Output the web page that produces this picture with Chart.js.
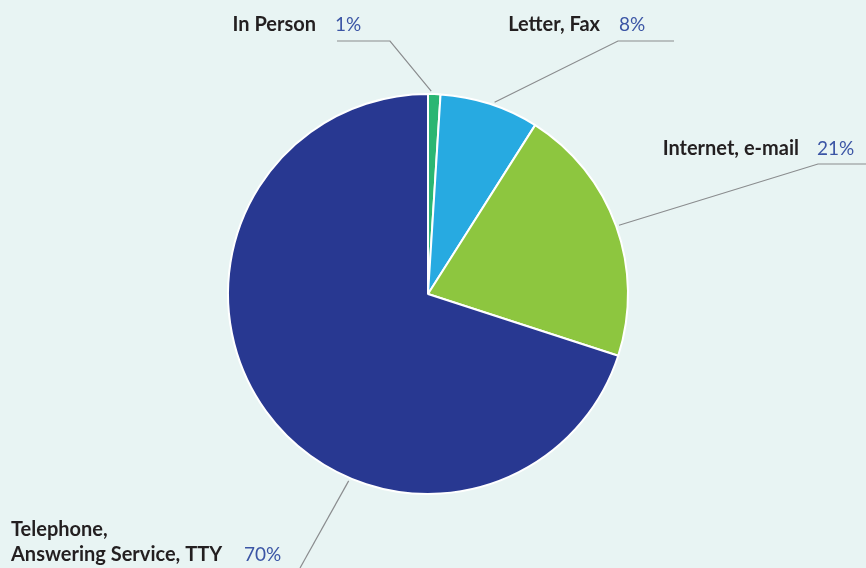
<!DOCTYPE html>
<html>
<head>
<meta charset="utf-8">
<script src="https://cdn.jsdelivr.net/npm/chart.js@4/dist/chart.umd.min.js"></script>
<style>
  html, body { margin: 0; padding: 0; background: #e8f4f3; }
  #wrap { width: 866px; height: 568px; position: relative; }
</style>
</head>
<body>
<div id="wrap"><canvas id="pie" width="866" height="568"></canvas></div>
<script>
// data
const categories = ['In Person', 'Letter, Fax', 'Internet, e-mail', 'Telephone,\nAnswering Service, TTY'];
const shares = [1, 8, 21, 70];
const sliceColors = ['#2bb673', '#27aae1', '#8dc63f', '#283891'];

// label placement (layout only)
const labelLayout = [
    { at: 0.25, elbow: [390, 41], tail: 337, nameRight: 316, pctLeft: 335, y: 25 },
    { at: 0.54, elbow: [618, 41], tail: 674, nameRight: 600, pctLeft: 619, y: 25 },
    { at: 0.5,  elbow: [818, 164], tail: 866, nameRight: 799, pctLeft: 817, y: 149 },
    { at: 0.377, elbow: [300, 568], tail: null, nameLeft: 11, pctLeft: 244, y: 555 }
];

const labelPlugin = {
    id: 'leaderLabels',
    afterDraw(chart) {
        const ctx = chart.ctx;
        const arcs = chart.getDatasetMeta(0).data;
        ctx.save();
        arcs.forEach((arc, i) => {
            const lay = labelLayout[i];
            const a = arc.startAngle + (arc.endAngle - arc.startAngle) * lay.at;
            const r = arc.outerRadius + 3;
            const sx = arc.x + Math.cos(a) * r;
            const sy = arc.y + Math.sin(a) * r;

            ctx.strokeStyle = '#8a8c8e';
            ctx.lineWidth = 1.2;
            ctx.beginPath();
            ctx.moveTo(sx, sy);
            ctx.lineTo(lay.elbow[0], lay.elbow[1]);
            if (lay.tail !== null) ctx.lineTo(lay.tail, lay.elbow[1]);
            ctx.stroke();

            const lines = categories[i].split('\n');
            ctx.textBaseline = 'middle';
            ctx.font = 'bold 20px Lato';
            ctx.fillStyle = '#231f20';
            if (lay.nameLeft !== undefined) {
                ctx.textAlign = 'left';
                lines.forEach((ln, k) => {
                    ctx.fillText(ln, lay.nameLeft, lay.y - (lines.length - 1 - k) * 25);
                });
            } else {
                ctx.textAlign = 'right';
                ctx.fillText(lines[0], lay.nameRight, lay.y);
            }
            ctx.font = '19px Lato';
            ctx.fillStyle = '#3b55a5';
            ctx.textAlign = 'left';
            ctx.fillText(shares[i] + '%', lay.pctLeft, lay.y);
        });
        ctx.restore();
    }
};

new Chart(document.getElementById('pie'), {
    type: 'pie',
    data: {
        labels: categories,
        datasets: [{
            data: shares,
            backgroundColor: sliceColors,
            borderColor: '#ffffff',
            borderWidth: 2
        }]
    },
    options: {
        responsive: false,
        animation: false,
        events: [],
        layout: { padding: { top: 93, bottom: 73, left: 227, right: 237 } },
        plugins: {
            legend: { display: false },
            tooltip: { enabled: false }
        }
    },
    plugins: [labelPlugin]
});
</script>
</body>
</html>
